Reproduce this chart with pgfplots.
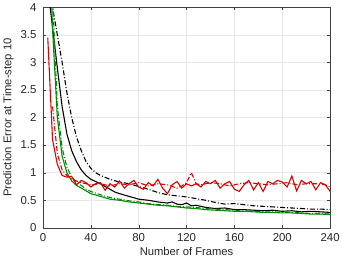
\documentclass[border=0pt]{standalone}
\usepackage{pgfplots}
\pgfplotsset{compat=1.18}
\usepackage{fontspec}
\setmainfont{Liberation Sans}
\definecolor{mred}{RGB}{220,0,0}
\definecolor{mgreen}{RGB}{0,140,0}
\begin{document}
\begin{tikzpicture}
\begin{axis}[
  scale only axis, width=289pt, height=222pt,
  xmin=0, xmax=240, ymin=0, ymax=4,
  xtick={0,40,...,240}, ytick={0,0.5,...,4},
  yticklabels={0,0.5,1,1.5,2,2.5,3,3.5,4},
  tick align=inside, tick pos=both,
  major tick length=3pt,
  grid=major, grid style={gray!18, line width=0.5pt},
  axis line style={line width=0.6pt, black!75},
  tick style={black!75},
  /pgf/number format/assume math mode=true,
  ticklabel style={font=\fontsize{11.5}{13}\selectfont, text=black!85},
  yticklabel style={xshift=-3pt},
  xticklabel style={yshift=-2pt},
  label style={font=\fontsize{11.3}{13}\selectfont, text=black!85},
  xlabel={Number of Frames}, ylabel={Prediction Error at Time-step 10},
  xlabel style={yshift=1pt}, ylabel style={yshift=0pt},
  every axis plot/.append style={line width=1.1pt, no marks},
  mdashdot/.style={dash pattern=on 5pt off 2pt on 1pt off 2pt},
  clip=true,
]
% black dash-dot
\addplot[black, mdashdot] coordinates {
(6,5) (8,4.0) (12,3.5) (16,3.0) (20,2.45) (24,2.0) (28,1.65) (32,1.4) (36,1.2) (40,1.08) (44,1.0) (48,0.95) (56,0.88) (64,0.83) (72,0.8) (80,0.75) (88,0.7) (96,0.64) (104,0.6) (112,0.58) (120,0.56) (128,0.53) (136,0.5) (144,0.46) (152,0.43) (160,0.44) (168,0.42) (176,0.4) (184,0.39) (192,0.38) (200,0.37) (208,0.36) (216,0.35) (224,0.34) (232,0.34) (240,0.33)};
% black solid
\addplot[black] coordinates {
(5,5) (6,4.0) (12,2.9) (16,2.2) (20,1.7) (24,1.4) (28,1.2) (32,1.05) (36,0.95) (40,0.88) (44,0.84) (48,0.8) (52,0.75) (56,0.7) (60,0.65) (64,0.62) (72,0.57) (80,0.52) (88,0.5) (96,0.47) (104,0.45) (108,0.47) (112,0.43) (116,0.42) (120,0.45) (124,0.4) (128,0.41) (136,0.37) (144,0.35) (152,0.36) (160,0.33) (168,0.33) (176,0.32) (184,0.31) (192,0.32) (200,0.3) (208,0.31) (216,0.29) (224,0.3) (232,0.29) (240,0.28)};
% green dash-dot
\addplot[mgreen, mdashdot] coordinates {
(7,5) (8,4.2) (12,2.2) (16,1.45) (20,1.1) (24,0.92) (28,0.83) (32,0.77) (36,0.7) (40,0.66) (48,0.6) (56,0.55) (64,0.52) (72,0.49) (80,0.47) (88,0.44) (96,0.42) (104,0.41) (112,0.39) (120,0.38) (128,0.37) (136,0.35) (144,0.34) (152,0.33) (160,0.32) (168,0.31) (176,0.3) (184,0.29) (192,0.29) (200,0.28) (208,0.28) (216,0.27) (224,0.26) (232,0.26) (240,0.25)};
% green solid
\addplot[mgreen] coordinates {
(6,5) (8,3.6) (12,2.0) (16,1.3) (20,1.0) (24,0.85) (28,0.77) (32,0.72) (36,0.67) (40,0.62) (48,0.57) (56,0.52) (64,0.5) (72,0.47) (80,0.45) (88,0.43) (96,0.41) (104,0.4) (112,0.38) (120,0.36) (128,0.35) (136,0.33) (144,0.32) (152,0.31) (160,0.3) (168,0.3) (176,0.29) (184,0.28) (192,0.28) (200,0.27) (208,0.27) (216,0.26) (224,0.25) (232,0.25) (240,0.24)};
% red dash-dot
\addplot[mred, mdashdot] coordinates {
(8,2.2) (12,1.35) (16,1.05) (20,0.95) (24,0.88) (28,0.85) (32,0.82) (40,0.78) (48,0.8) (56,0.76) (64,0.8) (72,0.78) (80,0.82) (88,0.76) (96,0.8) (104,0.78) (112,0.72) (116,0.76) (120,0.82) (124,1.0) (128,0.8) (132,0.78) (140,0.82) (148,0.8) (156,0.76) (164,0.8) (172,0.82) (180,0.8) (188,0.78) (196,0.8) (204,0.82) (212,0.78) (220,0.8) (228,0.8) (236,0.78) (240,0.74)};
% red solid
\addplot[mred] coordinates {
(4,3.45) (8,1.6) (12,1.15) (16,0.95) (20,0.92) (24,0.93) (28,0.78) (32,0.86) (36,0.82) (40,0.74) (44,0.8) (48,0.82) (52,0.68) (56,0.8) (60,0.74) (64,0.85) (68,0.72) (72,0.8) (76,0.86) (80,0.74) (84,0.7) (88,0.82) (92,0.76) (96,0.88) (100,0.72) (104,0.62) (108,0.78) (112,0.84) (116,0.72) (120,0.8) (124,0.76) (128,0.8) (132,0.74) (136,0.84) (140,0.8) (144,0.86) (148,0.72) (152,0.8) (156,0.84) (160,0.7) (164,0.66) (168,0.78) (172,0.86) (176,0.69) (180,0.82) (184,0.66) (188,0.84) (192,0.8) (196,0.86) (200,0.83) (204,0.74) (208,0.94) (212,0.67) (216,0.86) (220,0.8) (224,0.84) (228,0.69) (232,0.82) (236,0.78) (240,0.66)};
\end{axis}
\end{tikzpicture}
\end{document}
